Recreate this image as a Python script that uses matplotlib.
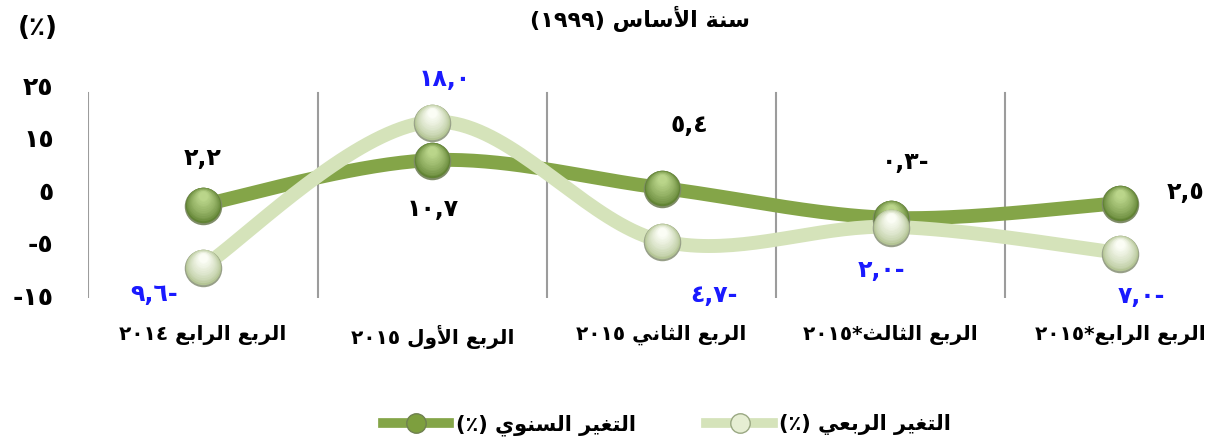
import re
import numpy as np
import matplotlib
matplotlib.use("Agg")
import matplotlib.pyplot as plt
from matplotlib import transforms
from matplotlib.lines import Line2D

# ---------------- data ----------------
categories = ["الربع الرابع ٢٠١٤", "الربع الأول ٢٠١٥", "الربع الثاني ٢٠١٥",
              "الربع الثالث*٢٠١٥", "الربع الرابع*٢٠١٥"]
annual_change = [2.2, 10.7, 5.4, -0.3, 2.5]        # التغير السنوي
quarterly_change = [-9.6, 18.0, -4.7, -2.0, -7.0]  # التغير الربعي
y_ticks = [-15, -5, 5, 15, 25]
series_names = ["التغير السنوي (٪)", "التغير الربعي (٪)"]
title_text = "سنة الأساس (١٩٩٩)"
unit_text = "(٪)"

# label offsets in points (layout only)
annual_offsets = [(0, 34), (0, -35), (20, 45), (11, 40), (47, 8)]
quarter_offsets = [(-35, -20), (9, 31), (38, -39), (-7, -31), (15, -31)]

# ---------------- Arabic helpers ----------------
FORMS = {
    '\u0627': ('\uFE8D', '\uFE8E', None, None),
    '\u0623': ('\uFE83', '\uFE84', None, None),
    '\u0628': ('\uFE8F', '\uFE90', '\uFE91', '\uFE92'),
    '\u0629': ('\uFE93', '\uFE94', None, None),
    '\u062A': ('\uFE95', '\uFE96', '\uFE97', '\uFE98'),
    '\u062B': ('\uFE99', '\uFE9A', '\uFE9B', '\uFE9C'),
    '\u0631': ('\uFEAD', '\uFEAE', None, None),
    '\u0633': ('\uFEB1', '\uFEB2', '\uFEB3', '\uFEB4'),
    '\u0639': ('\uFEC9', '\uFECA', '\uFECB', '\uFECC'),
    '\u063A': ('\uFECD', '\uFECE', '\uFECF', '\uFED0'),
    '\u0644': ('\uFEDD', '\uFEDE', '\uFEDF', '\uFEE0'),
    '\u0646': ('\uFEE5', '\uFEE6', '\uFEE7', '\uFEE8'),
    '\u0648': ('\uFEED', '\uFEEE', None, None),
    '\u064A': ('\uFEF1', '\uFEF2', '\uFEF3', '\uFEF4'),
}
LAMALEF = {'\u0627': ('\uFEFB', '\uFEFC'), '\u0623': ('\uFEF7', '\uFEF8')}


def shape(s):
    out, i, n = [], 0, len(s)
    while i < n:
        c = s[i]
        if c not in FORMS:
            out.append(c); i += 1; continue
        prev = s[i - 1] if i > 0 else ''
        jp = prev in FORMS and FORMS[prev][2] is not None
        if c == '\u0644' and i + 1 < n and s[i + 1] in LAMALEF:
            iso, fin = LAMALEF[s[i + 1]]
            out.append(fin if jp else iso); i += 2; continue
        nxt = s[i + 1] if i + 1 < n else ''
        jn = FORMS[c][2] is not None and nxt in FORMS
        iso, fin, ini, med = FORMS[c]
        out.append(med if (jp and jn) else fin if jp else ini if jn else iso)
        i += 1
    return ''.join(out)


def ar(s):
    t = shape(s)[::-1]
    t = re.sub(r'[\u0660-\u0669]+', lambda m: m.group(0)[::-1], t)
    return t.translate(str.maketrans('()', ')('))


DIG = str.maketrans('0123456789', '\u0660\u0661\u0662\u0663\u0664\u0665\u0666\u0667\u0668\u0669')


def lab(v):
    s = f"{abs(v):.1f}".replace('.', ',').translate(DIG)
    return s + ('-' if v < 0 else '')


def tick(v):
    s = str(abs(v)).translate(DIG)
    return ('-' if v < 0 else '') + s


# ---------------- figure ----------------
plt.rcParams['font.family'] = ['DejaVu Sans']
plt.rcParams['font.weight'] = 'bold'
fig = plt.figure(figsize=(12.15, 4.48), dpi=100)
ax = fig.add_axes([88.4 / 1215, (448 - 298.2) / 448, (1215 - 88.4) / 1215, 215.8 / 448])
x = np.arange(len(categories))
ax.set_xlim(-0.5, 4.414)
ax.set_ylim(-15.6, 25.5)
for s in ax.spines.values():
    s.set_visible(False)

for b in np.arange(len(categories)) - 0.5:
    ax.axvline(b, ymin=0, ymax=0.951, color='#9c9c9c', lw=1.5, zorder=1)

ax.set_yticks(y_ticks)
ax.set_yticklabels([tick(v) for v in y_ticks], fontsize=18, fontweight='bold')
ax.tick_params(axis='y', length=0, pad=25)
ax.set_xticks(x)
ax.set_xticklabels([ar(c) for c in categories], fontsize=14.5, fontweight='bold')
ax.tick_params(axis='x', length=0, pad=19)


def smooth(xs, ys, n=40):
    P = np.column_stack([xs, ys]).astype(float)
    pts = []
    for i in range(len(P) - 1):
        p0 = P[i - 1] if i > 0 else P[i]
        p1, p2 = P[i], P[i + 1]
        p3 = P[i + 2] if i + 2 < len(P) else P[i + 1]
        b1 = p1 + (p2 - p0) / 6.0
        b2 = p2 - (p3 - p1) / 6.0
        t = np.linspace(0, 1, n)[:, None]
        seg = ((1 - t) ** 3) * p1 + 3 * ((1 - t) ** 2) * t * b1 + 3 * (1 - t) * t ** 2 * b2 + t ** 3 * p2
        pts.append(seg if i == 0 else seg[1:])
    a = np.vstack(pts)
    return a[:, 0], a[:, 1]


dark_line = '#84A548'
light_line = '#D5E3BA'
sx, sy = smooth(x, annual_change)
ax.plot(sx, sy, color=dark_line, lw=10, solid_capstyle='butt', zorder=2)
sx, sy = smooth(x, quarterly_change)
ax.plot(sx, sy, color=light_line, lw=10, solid_capstyle='butt', zorder=3)


def mix(c1, c2, t):
    c1 = np.array(matplotlib.colors.to_rgb(c1)); c2 = np.array(matplotlib.colors.to_rgb(c2))
    return tuple(c1 + (c2 - c1) * t)


def spheres(xs, ys, lo, hi, edge, z):
    ax.plot(xs, ys, 'o', ms=27, mfc=edge, mec='none', zorder=z, clip_on=False,
            transform=transforms.offset_copy(ax.transData, fig=fig, x=0, y=-0.8, units='points'))
    steps = 14
    for k in range(steps):
        t = k / (steps - 1)
        ms = 25.5 - 19 * t
        off = 6.5 * t
        ax.plot(xs, ys, 'o', ms=ms, mfc=mix(lo, hi, t ** 0.7), mec='none', zorder=z + 0.01 * (k + 1),
                clip_on=False,
                transform=transforms.offset_copy(ax.transData, fig=fig, x=0, y=off, units='points'))


spheres(x, annual_change, '#618334', '#bad58a', '#7f8c68', 5)
spheres(x, quarterly_change, '#b4c595', '#fbfdf5', '#979f88', 6)

for xi, v, (dx, dy) in zip(x, annual_change, annual_offsets):
    ax.annotate(lab(v), (xi, v), xytext=(dx, dy), textcoords='offset points',
                ha='center', va='center', fontsize=17, fontweight='bold', color='black', zorder=10)
for xi, v, (dx, dy) in zip(x, quarterly_change, quarter_offsets):
    ax.annotate(lab(v), (xi, v), xytext=(dx, dy), textcoords='offset points',
                ha='center', va='center', fontsize=17, fontweight='bold', color='#1a1aff', zorder=10)

fig.text(640 / 1215, 1 - 19 / 448, ar(title_text), ha='center', va='center', fontsize=16, fontweight='bold')
fig.text(38 / 1215, 1 - 28 / 448, ar(unit_text), ha='center', va='center', fontsize=19, fontweight='bold')

h_dark = Line2D([], [], color=dark_line, lw=7, marker='o', ms=14, mfc='#7d9f3e', mec='#6f8050')
h_light = Line2D([], [], color=light_line, lw=7, marker='o', ms=14, mfc='#e6eed3', mec='#9aa883')
fig.legend([h_dark, h_light], [ar(n) for n in series_names], loc='center',
           bbox_to_anchor=(667 / 1215, 1 - 425 / 448), ncol=2, frameon=False,
           prop={'size': 15, 'weight': 'bold'}, handlelength=3.2, handletextpad=0.3,
           columnspacing=3.4, markerfirst=True)

fig.savefig('out.png', dpi=100)
